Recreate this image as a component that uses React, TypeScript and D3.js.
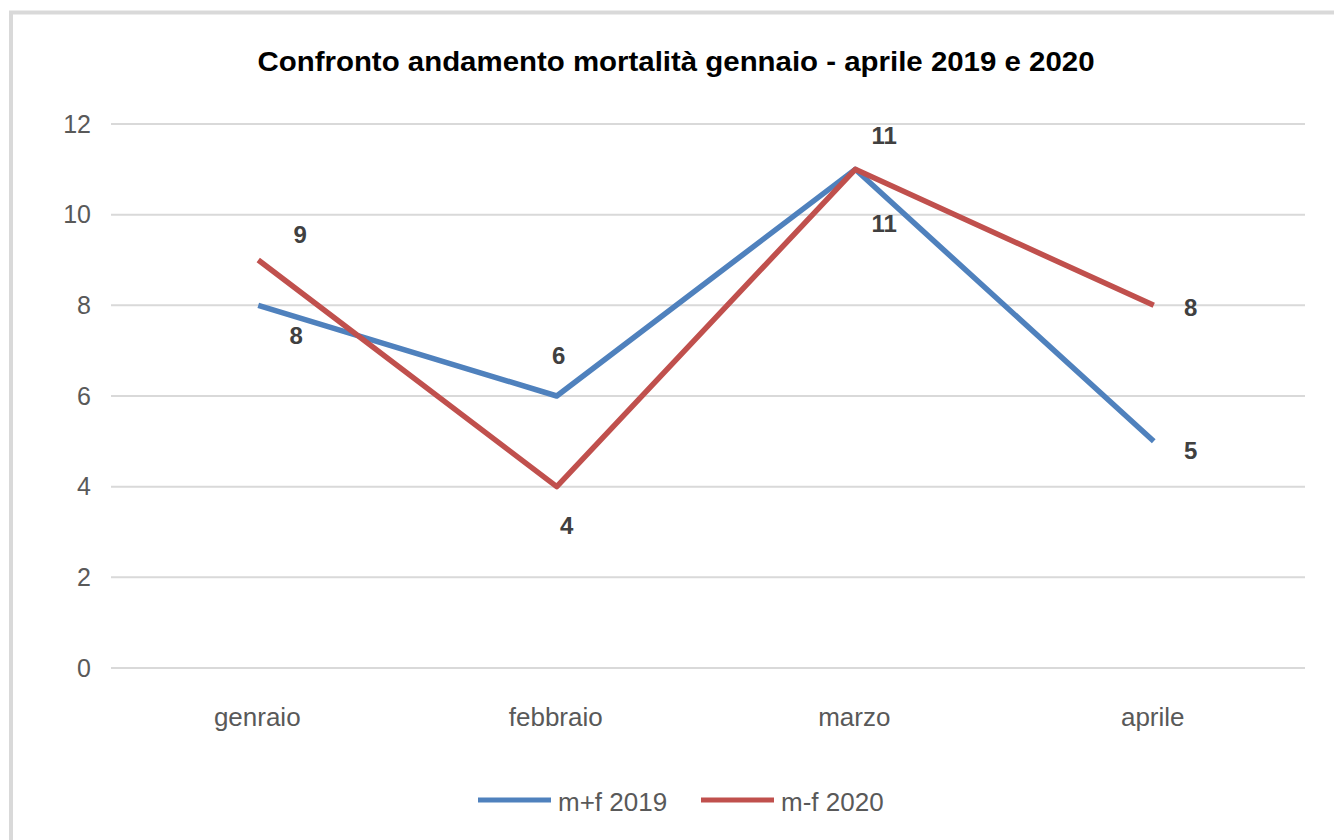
import React, { useEffect, useRef } from 'react';
import * as d3 from 'd3';

const months = ['genraio', 'febbraio', 'marzo', 'aprile'];
const values2019 = [8, 6, 11, 5];
const values2020 = [9, 4, 11, 8];
const yTicks = [0, 2, 4, 6, 8, 10, 12];

const seriesNames = ['m+f 2019', 'm-f 2020'];
const seriesColors = ['#4F81BD', '#C0504D'];

// data label offsets (px) from the point, per series
const labelOffsets2019 = [
  [38, 30],
  [2, -40],
  [29, 54],
  [37, 9],
];
const labelOffsets2020 = [
  [42, -25],
  [10, 39],
  [29, -34],
  [37, 2],
];

const App: React.FC = () => {
  const svgRef = useRef<SVGSVGElement | null>(null);

  useEffect(() => {
    const svg = d3.select(svgRef.current);
    const width = 1334;
    const height = 840;
    const margin = { top: 124, right: 29, bottom: 172, left: 111 };
    const font = '"Liberation Sans", Arial, sans-serif';

    svg.selectAll('*').remove();

    // outer chart border (only left/top visible)
    svg
      .append('rect')
      .attr('x', 11)
      .attr('y', 12.5)
      .attr('width', width + 20)
      .attr('height', height + 20)
      .attr('fill', '#fff')
      .attr('stroke', '#D9D9D9')
      .attr('stroke-width', 4);

    const x = d3
      .scaleBand()
      .domain(months)
      .range([margin.left, width - margin.right])
      .padding(0);

    const y = d3
      .scaleLinear()
      .domain([0, 12])
      .range([height - margin.bottom, margin.top]);

    // title
    svg
      .append('text')
      .attr('x', 676)
      .attr('y', 71)
      .attr('text-anchor', 'middle')
      .attr('font-family', font)
      .attr('font-weight', 'bold')
      .attr('font-size', 27)
      .attr('fill', '#000')
      .attr('textLength', 837)
      .attr('lengthAdjust', 'spacingAndGlyphs')
      .text('Confronto andamento mortalità gennaio - aprile 2019 e 2020');

    // gridlines
    svg
      .append('g')
      .selectAll('line')
      .data(yTicks)
      .join('line')
      .attr('x1', margin.left)
      .attr('x2', width - margin.right)
      .attr('y1', (d) => y(d))
      .attr('y2', (d) => y(d))
      .attr('stroke', '#D9D9D9')
      .attr('stroke-width', 2);

    // y tick labels
    svg
      .append('g')
      .selectAll('text')
      .data(yTicks)
      .join('text')
      .attr('x', 91)
      .attr('y', (d) => y(d))
      .attr('dy', '0.35em')
      .attr('text-anchor', 'end')
      .attr('font-family', font)
      .attr('font-size', 25)
      .attr('fill', '#595959')
      .text((d) => d);

    // x labels
    svg
      .append('g')
      .selectAll('text')
      .data(months)
      .join('text')
      .attr('x', (d) => x(d)! + x.bandwidth() / 2 - 3)
      .attr('y', 726)
      .attr('text-anchor', 'middle')
      .attr('font-family', font)
      .attr('font-size', 26)
      .attr('fill', '#595959')
      .text((d) => d);

    const line = d3
      .line<number>()
      .x((_, i) => x(months[i])! + x.bandwidth() / 2 - 2)
      .y((d) => y(d));

    const series = [
      { values: values2019, offsets: labelOffsets2019 },
      { values: values2020, offsets: labelOffsets2020 },
    ];

    series.forEach((s, si) => {
      svg
        .append('path')
        .datum(s.values)
        .attr('d', line)
        .attr('fill', 'none')
        .attr('stroke', seriesColors[si])
        .attr('stroke-width', 5.5)
        .attr('stroke-linejoin', 'round');
    });

    // data labels
    series.forEach((s) => {
      svg
        .append('g')
        .selectAll('text')
        .data(s.values)
        .join('text')
        .attr('x', (d, i) => x(months[i])! + x.bandwidth() / 2 - 2 + s.offsets[i][0])
        .attr('y', (d, i) => y(d) + s.offsets[i][1])
        .attr('dy', '0.35em')
        .attr('text-anchor', 'middle')
        .attr('font-family', font)
        .attr('font-weight', 'bold')
        .attr('font-size', 24)
        .attr('fill', '#404040')
        .text((d) => d);
    });

    // legend
    const legend = svg.append('g');
    const legendX = [478, 701];
    seriesNames.forEach((name, i) => {
      legend
        .append('line')
        .attr('x1', legendX[i])
        .attr('x2', legendX[i] + 73)
        .attr('y1', 800)
        .attr('y2', 800)
        .attr('stroke', seriesColors[i])
        .attr('stroke-width', 5);
      legend
        .append('text')
        .attr('x', legendX[i] + 80)
        .attr('y', 811)
        .attr('font-family', font)
        .attr('font-size', 26)
        .attr('fill', '#595959')
        .text(name);
    });
  }, []);

  return (
    <div style={{ position: 'absolute', left: 0, top: 0 }}>
      <svg ref={svgRef} width={1334} height={840} style={{ display: 'block' }}></svg>
    </div>
  );
};

export default App;
